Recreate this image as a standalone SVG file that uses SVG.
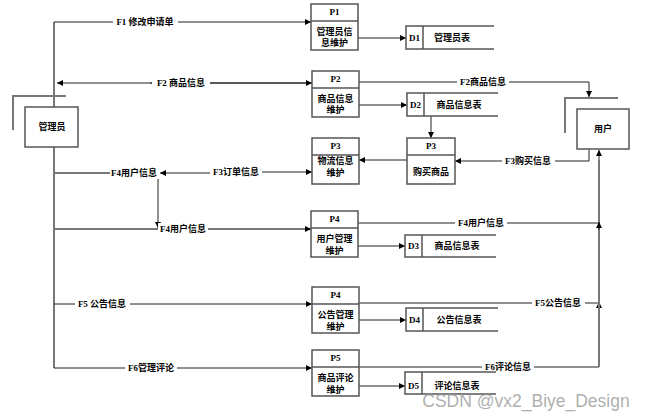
<svg xmlns="http://www.w3.org/2000/svg" width="649" height="420" viewBox="0 0 649 420">
<defs>
<marker id="arr" viewBox="0 0 10 10" refX="10" refY="5" markerWidth="8" markerHeight="6" markerUnits="userSpaceOnUse" orient="auto-start-reverse">
<path d="M0,0 L10,5 L0,10 z" fill="#000"/>
</marker>
<style>
.t{font-family:"Liberation Serif","Noto Sans CJK SC",serif;font-size:9px;font-weight:bold;fill:#000;text-anchor:middle;dominant-baseline:central}
.lbl{font-family:"Liberation Serif","Noto Sans CJK SC",serif;font-size:9px;font-weight:bold;fill:#000;text-anchor:middle;dominant-baseline:central}
.box{fill:#fff;stroke:#555;stroke-width:1.5}
.ent{fill:#fff;stroke:#555;stroke-width:1.5}
.sh{fill:none;stroke:#777;stroke-width:2}
.c{fill:none;stroke:#222;stroke-width:1}
.g{fill:none;stroke:#777;stroke-width:2}
.a{marker-end:url(#arr)}
.bg{fill:#fff}
</style>
</defs>
<rect width="649" height="420" fill="#fff"/>

<g id="connectors">
<polyline class="g" points="54,22 54,368"/>
<polyline class="c a" points="54,22 311,22"/>
<line class="c a" x1="358" y1="38" x2="406" y2="38"/>
<line class="c a" x1="312" y1="83" x2="57" y2="83"/>
<line class="c a" x1="150" y1="83" x2="312" y2="83"/>
<polyline class="c a" points="359,82 589,82 589,97"/>
<line class="c a" x1="359" y1="105" x2="407" y2="105"/>
<line class="c a" x1="431" y1="116" x2="431" y2="138"/>
<line class="c a" x1="407" y1="160" x2="359" y2="160"/>
<polyline class="c a" points="589,149 589,161 455,161"/>
<line class="g" x1="54" y1="173" x2="110" y2="173"/>
<line class="c a" x1="260" y1="173" x2="160" y2="173"/>
<line class="c a" x1="210" y1="172" x2="312" y2="172"/>
<line class="c a" x1="158" y1="173" x2="158" y2="228"/>
<line class="g a" x1="54" y1="229" x2="311" y2="229"/>
<polyline class="c" points="358,223 599,223"/>
<line class="c a" x1="358" y1="246" x2="405" y2="246"/>
<line class="c a" x1="54" y1="304" x2="312" y2="304"/>
<polyline class="c" points="359,303 599,303"/>
<line class="c a" x1="359" y1="320" x2="406" y2="320"/>
<line class="c a" x1="54" y1="368" x2="312" y2="368"/>
<polyline class="c" points="359,367 599,367 599,303"/>
<line class="c a" x1="359" y1="386" x2="405" y2="386"/>
<line class="c a" x1="599" y1="310" x2="599" y2="302"/>
<line class="g" x1="599" y1="367" x2="599" y2="160"/>
<line class="c a" x1="599" y1="230" x2="599" y2="222"/>
<line class="c a" x1="599" y1="160" x2="599" y2="150"/>
<rect class="bg" x="113" y="16" width="65" height="12"/>
<text class="lbl" x="145" y="22">F1 修改申请单</text>
<rect class="bg" x="152" y="77" width="58" height="12"/>
<text class="lbl" x="181" y="83">F2 商品信息</text>
<rect class="bg" x="457" y="76" width="52" height="12"/>
<text class="lbl" x="483" y="82">F2商品信息</text>
<rect class="bg" x="502" y="155" width="53" height="12"/>
<text class="lbl" x="528" y="161">F3购买信息</text>
<rect class="bg" x="110" y="167" width="50" height="12"/>
<text class="lbl" x="134" y="173">F4用户信息</text>
<rect class="bg" x="210" y="166" width="52" height="12"/>
<text class="lbl" x="236" y="172">F3订单信息</text>
<rect class="bg" x="158" y="223" width="50" height="12"/>
<text class="lbl" x="183" y="229">F4用户信息</text>
<rect class="bg" x="455" y="217" width="52" height="12"/>
<text class="lbl" x="481" y="223">F4用户信息</text>
<rect class="bg" x="75" y="298" width="55" height="12"/>
<text class="lbl" x="102" y="304">F5 公告信息</text>
<rect class="bg" x="532" y="297" width="53" height="12"/>
<text class="lbl" x="558" y="303">F5公告信息</text>
<rect class="bg" x="125" y="362" width="52" height="12"/>
<text class="lbl" x="151" y="368">F6管理评论</text>
<rect class="bg" x="482" y="361" width="52" height="12"/>
<text class="lbl" x="508" y="367">F6评论信息</text>
</g>

<g id="admin">
<polyline class="sh" points="13,130 13,96 66,96"/>
<rect class="ent" x="25" y="107" width="53" height="40"/>
<text class="t" x="52" y="127">管理员</text>
</g>

<g id="user">
<polyline class="sh" points="565,133 565,98 618,98"/>
<rect class="ent" x="577" y="109" width="52" height="40"/>
<text class="t" x="603" y="129">用户</text>
</g>

<g id="P1">
<rect class="box" x="311" y="4" width="47" height="46"/>
<line class="box" x1="311" y1="21" x2="358" y2="21"/>
<text class="t" x="334.5" y="12">P1</text>
<text class="t" x="334.5" y="32">管理员信</text>
<text class="t" x="334.5" y="43">息维护</text>
</g>

<g id="P2">
<rect class="box" x="312" y="71" width="47" height="46"/>
<line class="box" x1="312" y1="88" x2="359" y2="88"/>
<text class="t" x="335.5" y="79">P2</text>
<text class="t" x="335.5" y="99">商品信息</text>
<text class="t" x="335.5" y="110">维护</text>
</g>

<g id="P3a">
<rect class="box" x="312" y="138" width="47" height="46"/>
<line class="box" x1="312" y1="155" x2="359" y2="155"/>
<text class="t" x="335.5" y="146">P3</text>
<text class="t" x="335.5" y="161">物流信息</text>
<text class="t" x="335.5" y="173">维护</text>
</g>

<g id="P3b">
<rect class="box" x="407" y="138" width="48" height="46"/>
<line class="box" x1="407" y1="155" x2="455" y2="155"/>
<text class="t" x="431" y="146">P3</text>
<text class="t" x="431" y="172">购买商品</text>
</g>

<g id="P4a">
<rect class="box" x="311" y="211" width="47" height="46"/>
<line class="box" x1="311" y1="228" x2="358" y2="228"/>
<text class="t" x="334.5" y="219">P4</text>
<text class="t" x="334.5" y="239">用户管理</text>
<text class="t" x="334.5" y="251">维护</text>
</g>

<g id="P4b">
<rect class="box" x="312" y="287" width="47" height="46"/>
<line class="box" x1="312" y1="304" x2="359" y2="304"/>
<text class="t" x="335.5" y="295">P4</text>
<text class="t" x="335.5" y="315">公告管理</text>
<text class="t" x="335.5" y="327">维护</text>
</g>

<g id="P5">
<rect class="box" x="312" y="350" width="47" height="46"/>
<line class="box" x1="312" y1="367" x2="359" y2="367"/>
<text class="t" x="335.5" y="358">P5</text>
<text class="t" x="335.5" y="378">商品评论</text>
<text class="t" x="335.5" y="390">维护</text>
</g>

<g id="D1">
<polyline class="box" points="494,26 406,26 406,49 494,49"/>
<line class="box" x1="423" y1="26" x2="423" y2="49"/>
<text class="t" x="414.5" y="38">D1</text>
<text class="t" x="452" y="38">管理员表</text>
</g>

<g id="D2">
<polyline class="box" points="498,93 407,93 407,116 498,116"/>
<line class="box" x1="424" y1="93" x2="424" y2="116"/>
<text class="t" x="415.5" y="105">D2</text>
<text class="t" x="459" y="105">商品信息表</text>
</g>

<g id="D3">
<polyline class="box" points="496,235 405,235 405,257 496,257"/>
<line class="box" x1="422" y1="235" x2="422" y2="257"/>
<text class="t" x="413.5" y="246">D3</text>
<text class="t" x="457" y="246">商品信息表</text>
</g>

<g id="D4">
<polyline class="box" points="498,308 406,308 406,331 498,331"/>
<line class="box" x1="423" y1="308" x2="423" y2="331"/>
<text class="t" x="414.5" y="320">D4</text>
<text class="t" x="459" y="320">公告信息表</text>
</g>

<g id="D5">
<polyline class="box" points="496,372 405,372 405,394 496,394"/>
<line class="box" x1="422" y1="372" x2="422" y2="394"/>
<text class="t" x="413.5" y="386">D5</text>
<text class="t" x="457" y="386">评论信息表</text>
</g>

<text x="526" y="401" font-family="Liberation Sans, Noto Sans, sans-serif" font-size="17.5" fill="#999" fill-opacity="0.8" text-anchor="middle" dominant-baseline="central">CSDN @vx2_Biye_Design</text>
</svg>
